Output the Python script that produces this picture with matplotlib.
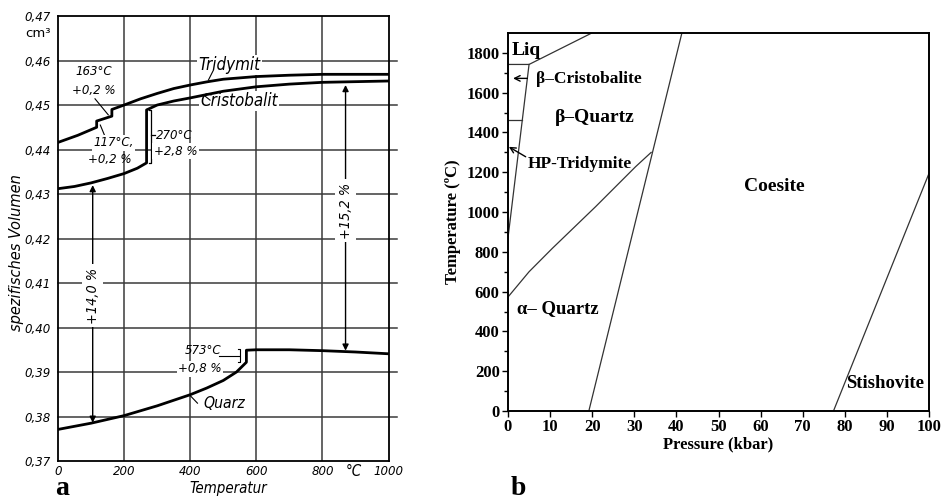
import matplotlib.pyplot as plt
from matplotlib import font_manager
from matplotlib.font_manager import FontProperties

# ---- panel a: specific volume of SiO2 modifications vs temperature ----
tridymit_temp = [0, 60, 117, 117, 163, 163, 200, 250, 300, 350, 400, 450, 500, 600, 700, 800, 1000]
tridymit_vol = [0.4416, 0.4432, 0.4450, 0.4464, 0.4475, 0.4490, 0.4500, 0.4514, 0.4526,
                0.4537, 0.4545, 0.4552, 0.4558, 0.4564, 0.4567, 0.4569, 0.4569]

cristobalit_temp = [0, 50, 100, 150, 200, 240, 268, 268, 300, 350, 400, 500, 600, 700, 800, 1000]
cristobalit_vol = [0.4312, 0.4317, 0.4325, 0.4335, 0.4346, 0.4358, 0.4370, 0.4489, 0.4500,
                   0.4509, 0.4516, 0.4531, 0.4541, 0.4547, 0.4551, 0.4554]

quarz_temp = [0, 100, 200, 300, 400, 450, 500, 540, 570, 570, 600, 700, 800, 900, 1000]
quarz_vol = [0.3771, 0.3785, 0.3802, 0.3824, 0.3849, 0.3864, 0.3881, 0.3900, 0.3922,
             0.3949, 0.3950, 0.3950, 0.3948, 0.3945, 0.3941]

vol_ticks = [0.37, 0.38, 0.39, 0.40, 0.41, 0.42, 0.43, 0.44, 0.45, 0.46, 0.47]
vol_ticklabels = ['0,37', '0,38', '0,39', '0,40', '0,41', '0,42', '0,43', '0,44', '0,45', '0,46', '0,47']
temp_ticks = [0, 200, 400, 600, 800, 1000]

# ---- panel b: SiO2 phase diagram ----
pressure_ticks = [0, 10, 20, 30, 40, 50, 60, 70, 80, 90, 100]
temperature_ticks = [0, 200, 400, 600, 800, 1000, 1200, 1400, 1600, 1800]

liq_p = [0, 5.0, 19.9]
liq_t = [1742, 1742, 1900]
crist_trid_p = [0, 3.4]
crist_trid_t = [1465, 1465]
trid_quartz_p = [5.0, 0]
trid_quartz_t = [1742, 870]
alpha_beta_p = [0, 5, 10.5, 20.8, 30.3, 34.0]
alpha_beta_t = [573, 700, 817, 1027, 1228, 1300]
quartz_coesite_p = [19.2, 41.3]
quartz_coesite_t = [0, 1900]
coesite_stish_p = [77.3, 100]
coesite_stish_t = [0, 1195]

# look for a condensed italic sans for the old German diagram
narrow = None
for f in font_manager.fontManager.ttflist:
    if f.style in ('italic', 'oblique') and 'condensed' in str(f.stretch) and 'Serif' not in f.name \
            and 'Mono' not in f.name and 'CJK' not in f.name and f.weight in (400, 'normal', 'regular'):
        narrow = f.fname
        break


def fa(size):
    if narrow:
        return FontProperties(fname=narrow, size=size * 0.9)
    return FontProperties(family='DejaVu Sans', style='italic', size=size * 0.76)


fb = dict(family='Liberation Serif', weight='bold')

fig = plt.figure(figsize=(9.43, 5.01), dpi=100)
ax1 = fig.add_axes([0.0615, 0.0798, 0.3505, 0.8882])
ax2 = fig.add_axes([0.5387, 0.1796, 0.4465, 0.7545])

# ================= panel a =================
ax1.set_xlim(0, 1000)
ax1.set_ylim(0.37, 0.47)
grid_c = '#3a3a3a'
for v in vol_ticks[1:-1]:
    ax1.plot([0, 1025], [v, v], color=grid_c, lw=1.1, zorder=1, clip_on=False)
for t in temp_ticks[1:-1]:
    ax1.axvline(t, color=grid_c, lw=1.1, zorder=1)
for s in ax1.spines.values():
    s.set_linewidth(1.3)

ax1.plot(tridymit_temp, tridymit_vol, color='k', lw=2.0, zorder=4)
ax1.plot(cristobalit_temp, cristobalit_vol, color='k', lw=2.0, zorder=4)
ax1.plot(quarz_temp, quarz_vol, color='k', lw=2.0, zorder=4)

ax1.set_xticks(temp_ticks)
ax1.set_xticklabels([str(t) for t in temp_ticks], fontproperties=fa(10.5))
ax1.set_yticks(vol_ticks)
ax1.set_yticklabels(vol_ticklabels, fontproperties=fa(10.5))
ax1.tick_params(length=0, pad=5)
ax1.tick_params(axis='x', pad=3)

ax1.text(-60, 0.4660, 'cm³', fontsize=9.5, family='DejaVu Sans', ha='center', va='center', clip_on=False)
ax1.text(895, 0.3677, '°C', fontproperties=fa(12), ha='center', va='center', clip_on=False)
fig.text(228 / 943, 1 - 488 / 501, 'Temperatur', fontproperties=fa(12), ha='center', va='center')
fig.text(17 / 943, 1 - 253 / 501, 'spezifisches Volumen', fontproperties=fa(13), rotation=90,
         ha='center', va='center')

wb = dict(facecolor='white', edgecolor='none', pad=1.0)
ax1.text(520, 0.4590, 'Tridymit', fontproperties=fa(13.5), ha='center', va='center', bbox=wb, zorder=3)
ax1.plot([470, 455], [0.4578, 0.4556], color='k', lw=0.8, zorder=3)
ax1.text(548, 0.4509, 'Cristobalit', fontproperties=fa(13.5), ha='center', va='center', bbox=wb, zorder=3)
ax1.plot([460, 445], [0.4511, 0.4520], color='k', lw=0.8, zorder=3)

ax1.text(107, 0.4576, '163°C', fontproperties=fa(10.5), ha='center', va='center')
ax1.text(107, 0.4533, '+0,2 %', fontproperties=fa(10.5), ha='center', va='center')
ax1.plot([112, 152], [0.4514, 0.4478], color='k', lw=0.8)
ax1.text(168, 0.4415, '117°C,', fontproperties=fa(10.5), ha='center', va='center', bbox=wb, zorder=3)
ax1.text(158, 0.4377, '+0,2 %', fontproperties=fa(10.5), ha='center', va='center')
ax1.plot([143, 128], [0.4428, 0.4455], color='k', lw=0.8)

ax1.plot([276, 282, 282, 276], [0.4488, 0.4488, 0.4370, 0.4370], color='k', lw=0.9)
ax1.plot([282, 292], [0.4432, 0.4432], color='k', lw=0.9)
ax1.text(352, 0.4432, '270°C', fontproperties=fa(10.5), ha='center', va='center')
ax1.text(355, 0.4396, '+2,8 %', fontproperties=fa(10.5), ha='center', va='center', bbox=wb, zorder=3)

ax1.plot([488, 547], [0.3937, 0.3937], color='k', lw=0.8)
ax1.plot([545, 550, 550, 545], [0.3951, 0.3951, 0.3922, 0.3922], color='k', lw=0.8)
ax1.text(440, 0.3948, '573°C', fontproperties=fa(10.5), ha='center', va='center')
ax1.text(430, 0.3907, '+0,8 %', fontproperties=fa(10.5), ha='center', va='center', bbox=wb, zorder=3)
ax1.text(502, 0.3829, 'Quarz', fontproperties=fa(12.5), ha='center', va='center')
ax1.plot([422, 400], [0.3830, 0.3847], color='k', lw=0.8)

arr = dict(arrowstyle='<|-|>', color='k', lw=1.0, mutation_scale=9, shrinkA=0, shrinkB=0)
ax1.annotate('', xy=(105, 0.4320), xytext=(105, 0.3786), arrowprops=arr, zorder=2)
ax1.text(105, 0.4072, '+14,0 %', fontproperties=fa(11.5), rotation=90, ha='center', va='center',
         bbox=dict(facecolor='white', edgecolor='none', pad=2.5), zorder=3)
ax1.annotate('', xy=(870, 0.4545), xytext=(870, 0.3948), arrowprops=arr, zorder=2)
ax1.text(870, 0.4263, '+15,2 %', fontproperties=fa(11.5), rotation=90, ha='center', va='center',
         bbox=dict(facecolor='white', edgecolor='none', pad=2.5), zorder=3)

fig.text(0.058, 0.011, 'a', fontsize=20, family='Liberation Serif', weight='bold', va='baseline')

# ================= panel b =================
lc = '#333333'
ax2.set_xlim(0, 100)
ax2.set_ylim(0, 1900)
for s in ax2.spines.values():
    s.set_linewidth(1.4)
for p, t in [(liq_p, liq_t), (crist_trid_p, crist_trid_t), (trid_quartz_p, trid_quartz_t),
             (alpha_beta_p, alpha_beta_t), (quartz_coesite_p, quartz_coesite_t),
             (coesite_stish_p, coesite_stish_t)]:
    ax2.plot(p, t, color=lc, lw=0.9)

ax2.set_xticks(pressure_ticks)
ax2.set_xticklabels([str(p) for p in pressure_ticks], fontsize=12, **fb)
ax2.set_yticks(temperature_ticks)
ax2.set_yticklabels([str(t) for t in temperature_ticks], fontsize=12, **fb)
ax2.set_yticks(range(100, 1900, 200), minor=True)
ax2.tick_params(direction='out', length=4, width=1.0, pad=2)
ax2.tick_params(which='minor', direction='out', length=3, width=1.0)
ax2.set_xlabel('Pressure (kbar)', fontsize=12, labelpad=1, **fb)
ax2.set_ylabel('Temperature (ºC)', fontsize=12, labelpad=4, **fb)

ax2.text(0.8, 1812, 'Liq', fontsize=14, ha='left', va='center', **fb)
ax2.text(6.6, 1668, 'β–Cristobalite', fontsize=12.5, ha='left', va='center', **fb)
ax2.annotate('', xy=(1.2, 1672), xytext=(4.6, 1672),
             arrowprops=dict(arrowstyle='->', color='k', lw=1.0, shrinkA=0, shrinkB=0))
ax2.text(20.6, 1475, 'β–Quartz', fontsize=14, ha='center', va='center', **fb)
ax2.text(4.7, 1244, 'HP-Tridymite', fontsize=12.5, ha='left', va='center', **fb)
ax2.annotate('', xy=(0.2, 1328), xytext=(4.2, 1278),
             arrowprops=dict(arrowstyle='->', color='k', lw=1.0, shrinkA=0, shrinkB=0))
ax2.text(63.3, 1127, 'Coesite', fontsize=14, ha='center', va='center', **fb)
ax2.text(2.2, 516, 'α– Quartz', fontsize=13.5, ha='left', va='center', **fb)
ax2.text(80.3, 139, 'Stishovite', fontsize=13.5, ha='left', va='center', **fb)

fig.text(0.542, 0.011, 'b', fontsize=20, family='Liberation Serif', weight='bold', va='baseline')

fig.savefig('out.png', dpi=100)
